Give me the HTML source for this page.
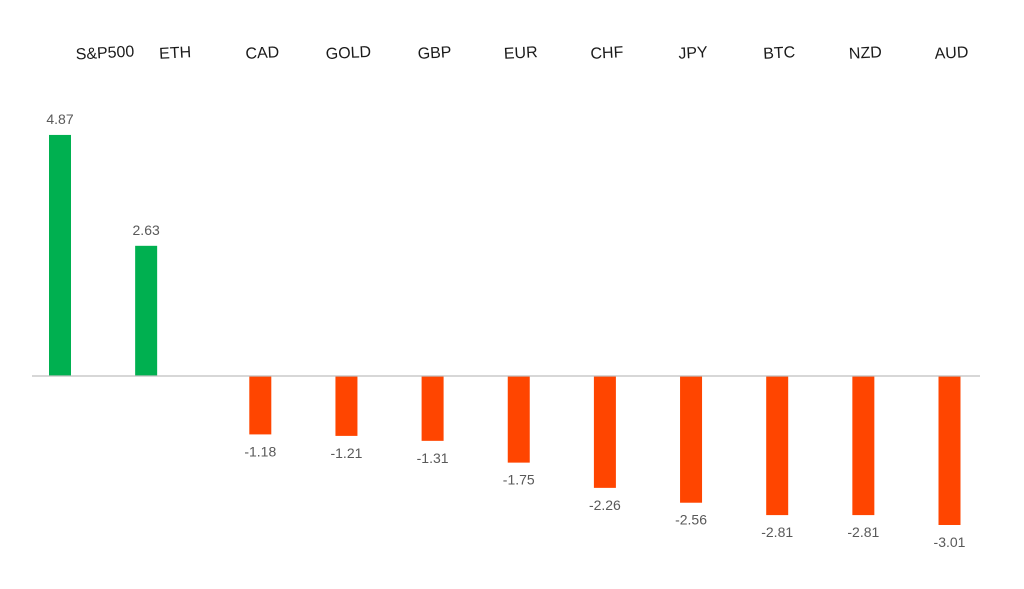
<!DOCTYPE html>
<html><head><meta charset="utf-8"><style>
html,body{margin:0;padding:0;background:#fff;}
svg text{font-family:"Liberation Sans",sans-serif;}
</style></head><body>
<svg id="chart" width="1024" height="584" viewBox="0 0 1024 584" xmlns="http://www.w3.org/2000/svg">
<rect width="1024" height="584" fill="#fff"/>
</svg>
<script>
const categories = ["S&P500","ETH","CAD","GOLD","GBP","EUR","CHF","JPY","BTC","NZD","AUD"];
const values = [4.87,2.63,-1.18,-1.21,-1.31,-1.75,-2.26,-2.56,-2.81,-2.81,-3.01];
const valueLabels = ["4.87","2.63","-1.18","-1.21","-1.31","-1.75","-2.26","-2.56","-2.81","-2.81","-3.01"];

const NS = "http://www.w3.org/2000/svg";
const svg = document.getElementById("chart");
const baseY = 376, pxPerUnit = 49.5;
function y(v){ return baseY - v*pxPerUnit; }
function xc(i){ return 88 + i*86.15; }
function mk(tag, attrs){ const e=document.createElementNS(NS,tag); for(const k in attrs) e.setAttribute(k,attrs[k]); svg.appendChild(e); return e; }

values.forEach((v,i)=>{
  const pos = v>=0;
  const cx = xc(i) + (pos ? -28 : 0);
  const top = Math.min(y(v), baseY), h = Math.abs(y(v)-baseY);
  const r = mk("rect",{x:cx-11,y:top,width:22,height:h,fill:pos?"#00b050":"#ff4500"});
  
  
  const t = mk("text",{x:cx,y:pos?top-11:y(v)+22,"text-anchor":"middle","font-size":"14",fill:"#595959"});
  t.textContent = valueLabels[i];
  
  
  const lx = xc(i) + (i===0?17:(i===1?1:2));
  const c = mk("text",{x:lx,y:58,"text-anchor":"middle","font-size":"16",fill:"#1a1a1a",transform:`rotate(-3 ${lx} 53)`});
  c.textContent = categories[i];
  
  
});
const ax = mk("line",{x1:32,x2:980,y1:baseY,y2:baseY,stroke:"#bfbfbf","stroke-width":"1.2"});


</script>
</body></html>
